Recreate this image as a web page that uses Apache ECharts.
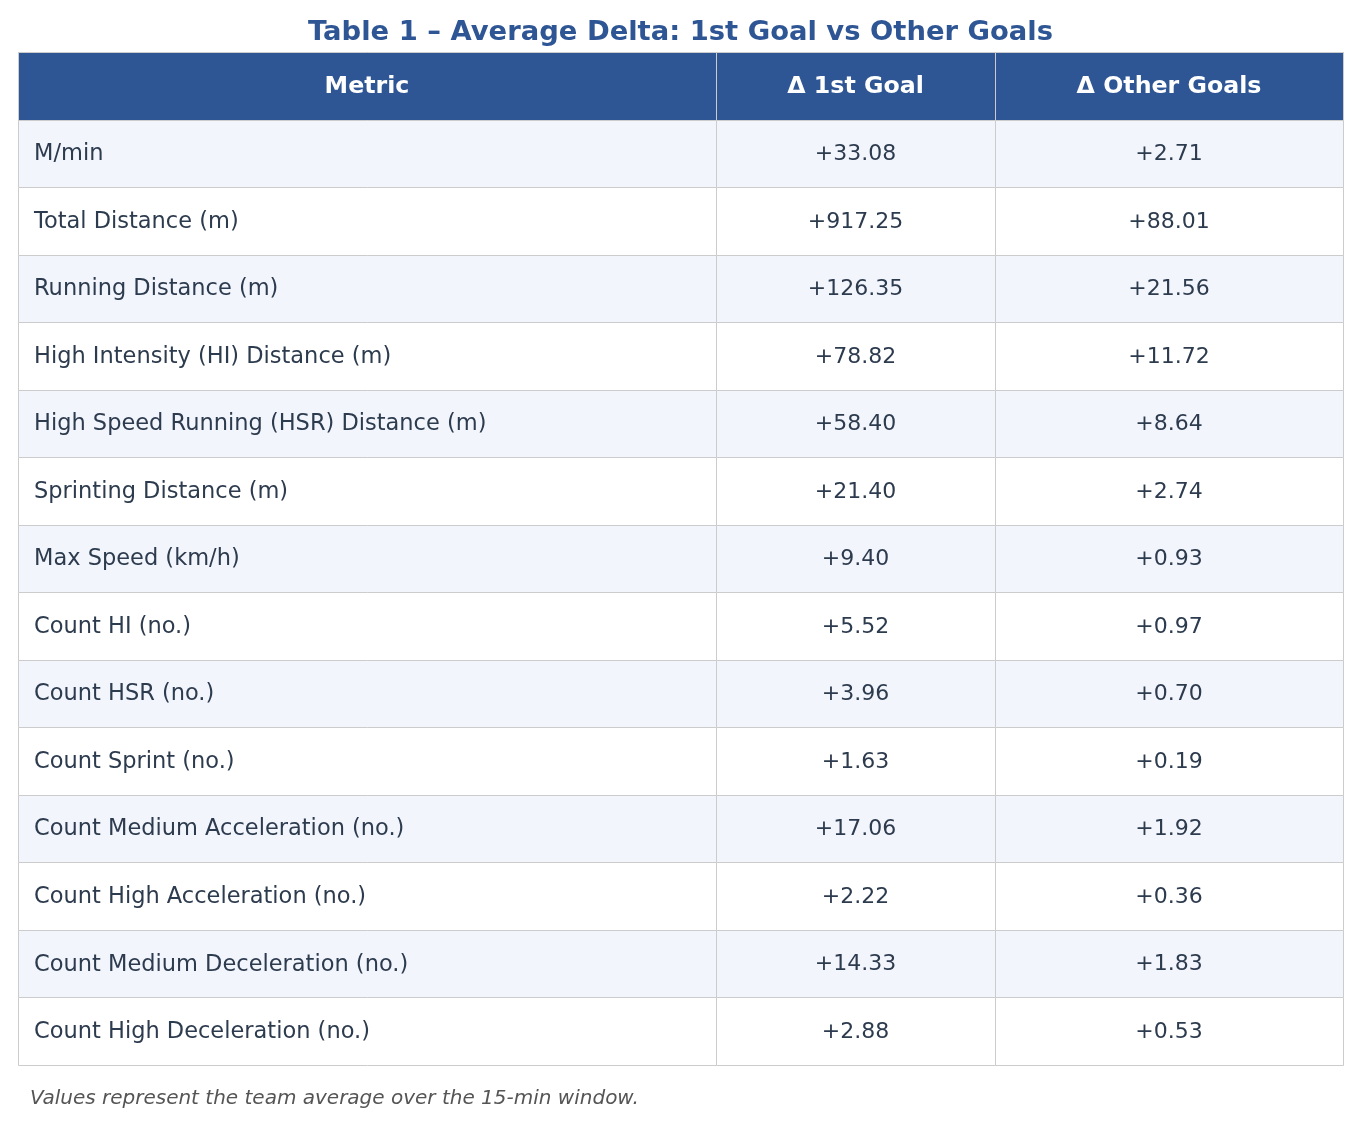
<!DOCTYPE html>
<html>
<head>
<meta charset="utf-8">
<script src="https://cdn.jsdelivr.net/npm/echarts@6/dist/echarts.min.js"></script>
<style>
  html, body { margin: 0; padding: 0; background: #fff; }
  #main { width: 1361px; height: 1126px; }
</style>
</head>
<body>
<div id="main"></div>
<script>
// table content
const headers = ['Metric', 'Δ 1st Goal', 'Δ Other Goals'];
const metrics = [
  'M/min',
  'Total Distance (m)',
  'Running Distance (m)',
  'High Intensity (HI) Distance (m)',
  'High Speed Running (HSR) Distance (m)',
  'Sprinting Distance (m)',
  'Max Speed (km/h)',
  'Count HI (no.)',
  'Count HSR (no.)',
  'Count Sprint (no.)',
  'Count Medium Acceleration (no.)',
  'Count High Acceleration (no.)',
  'Count Medium Deceleration (no.)',
  'Count High Deceleration (no.)'
];
const firstGoal = [33.08, 917.25, 126.35, 78.82, 58.40, 21.40, 9.40, 5.52, 3.96, 1.63, 17.06, 2.22, 14.33, 2.88];
const otherGoals = [2.71, 88.01, 21.56, 11.72, 8.64, 2.74, 0.93, 0.97, 0.70, 0.19, 1.92, 0.36, 1.83, 0.53];

// column split as a share of table width
const colEdges = [0, 0.5268, 0.7374, 1];
const FONT = '"DejaVu Sans", sans-serif';

const fmt = v => (v >= 0 ? '+' : '') + v.toFixed(2);
const rowNames = ['header'].concat(metrics);

// one entry per cell: [col, row] plus its text
const cells = [];
headers.forEach((h, c) => cells.push({ value: [c, 0], text: h }));
metrics.forEach((m, i) => {
  cells.push({ value: [0, i + 1], text: m });
  cells.push({ value: [1, i + 1], text: fmt(firstGoal[i]) });
  cells.push({ value: [2, i + 1], text: fmt(otherGoals[i]) });
});

const chart = echarts.init(document.getElementById('main'));

const renderCell = (params, api) => {
  const c = api.value(0);
  const r = api.value(1);
  const cell = cells[params.dataIndex];
  const x0 = api.coord([colEdges[c], r])[0];
  const x1 = api.coord([colEdges[c + 1], r])[0];
  const yc = api.coord([0, r])[1];
  const h = api.size([0, 1])[1];
  const top = yc - h / 2;
  const isHead = r === 0;
  const fill = isHead ? '#2e5594' : (r % 2 === 1 ? '#f2f5fc' : '#ffffff');
  const left = Math.round(x0) + 0.5;
  const right = Math.round(x1) + 0.5;
  const t = Math.round(top) + 0.5;
  const b = Math.round(top + h) + 0.5;
  const textLeft = c === 0 && !isHead;
  let font = '22px ' + FONT;
  if (isHead) font = 'bold 23.7px ' + FONT;
  else if (c === 0) font = '22.5px ' + FONT;
  return {
    type: 'group',
    children: [
      {
        type: 'rect',
        shape: { x: left, y: t, width: right - left, height: b - t },
        style: { fill: fill, stroke: '#cccccc', lineWidth: 1 }
      },
      {
        type: 'text',
        style: {
          text: cell.text,
          x: textLeft ? x0 + 16 : (x0 + x1) / 2,
          y: yc + 1,
          align: textLeft ? 'left' : 'center',
          verticalAlign: 'middle',
          fill: isHead ? '#ffffff' : '#2d3b4e',
          font: font
        }
      }
    ]
  };
};

const option = {
  backgroundColor: '#ffffff',
  title: [
    {
      text: 'Table 1 – Average Delta: 1st Goal vs Other Goals',
      left: 'center',
      top: 14,
      textStyle: { fontFamily: FONT, fontSize: 27.4, fontWeight: 'bold', color: '#2e5594' }
    },
    {
      text: 'Values represent the team average over the 15-min window.',
      left: 30,
      top: 1089,
      padding: 0,
      textStyle: { fontFamily: FONT, fontSize: 20, fontStyle: 'italic', fontWeight: 'normal', color: '#555555' }
    }
  ],
  grid: { left: 18, right: 18, top: 52, bottom: 61 },
  xAxis: { type: 'value', min: 0, max: 1, show: false },
  yAxis: { type: 'category', data: rowNames, inverse: true, show: false },
  series: [
    {
      type: 'custom',
      renderItem: renderCell,
      clip: false,
      silent: true,
      encode: { x: 0, y: 1 },
      data: cells.map(d => d.value)
    }
  ]
};

chart.setOption(option);
</script>
</body>
</html>
